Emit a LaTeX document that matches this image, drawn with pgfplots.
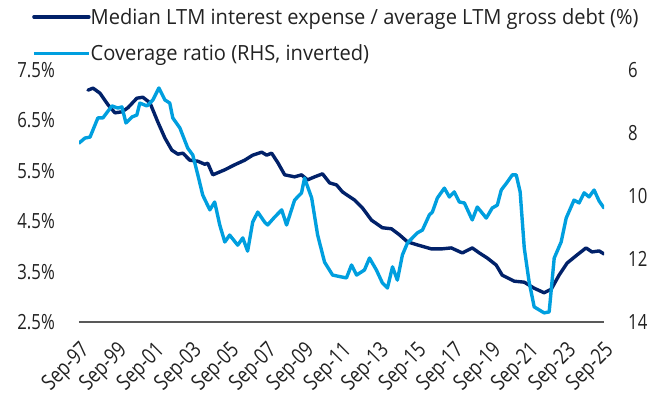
\documentclass[border=0pt]{standalone}
\usepackage{fontspec}
\setmainfont{Open Sans}[FakeStretch=0.8]
\newfontfamily\legfont{Open Sans}[FakeStretch=0.96]
\usepackage{pgfplots}
\pgfplotsset{compat=1.18}
\definecolor{navy}{HTML}{012169}
\definecolor{lblue}{HTML}{009FDF}
\definecolor{txt}{HTML}{222222}
\begin{document}
\begin{tikzpicture}
\path[use as bounding box] (-79bp,-80bp) rectangle (575bp,322bp);
\begin{axis}[
  scale only axis, width=525bp, height=252bp,
  xmin=1997.75, xmax=2025.8, ymin=2.5, ymax=7.5,
  axis x line*=bottom, axis y line*=left,
  y axis line style={draw=none},
  x axis line style={draw=black!65, line width=1.6bp, -},
  major tick length=0pt,
  xtick={1997.75,1999.75,2001.75,2003.75,2005.75,2007.75,2009.75,2011.75,2013.75,2015.75,2017.75,2019.75,2021.75,2023.75,2025.75},
  xticklabels={Sep-97,Sep-99,Sep-01,Sep-03,Sep-05,Sep-07,Sep-09,Sep-11,Sep-13,Sep-15,Sep-17,Sep-19,Sep-21,Sep-23,Sep-25},
  ytick={2.5,3.5,4.5,5.5,6.5,7.5},
  yticklabel={\pgfmathprintnumber[fixed,fixed zerofill,precision=1]{\tick}\%},
  /pgf/number format/assume math mode=true,
  tick label style={font=\fontsize{21}{24}\selectfont, text=txt},
  yticklabel style={inner sep=0pt, xshift=-24bp},
  xticklabel shift=18bp,
  xticklabel style={anchor=north east, rotate=45, inner sep=0pt, font=\fontsize{22}{24}\selectfont},
  legend style={at={(-0.0895,1.246)}, anchor=north west, draw=none, fill=none,
    inner sep=0pt, row sep=19bp, column sep=0bp, nodes={inner sep=0pt},
    font=\legfont\fontsize{21}{24}\selectfont, text=txt},
  legend cell align=left,
  legend image code/.code={\draw[#1] (0bp,0bp) -- (55bp,0bp);},
]
\addplot[navy, line width=3.4bp, line join=round, line cap=round] coordinates {
(1998.23,7.10) (1998.50,7.14) (1998.87,7.04) (1999.30,6.81) (1999.67,6.65) (2000.04,6.67)
(2000.36,6.75) (2000.84,6.94) (2001.16,6.96) (2001.54,6.85) (2001.96,6.47) (2002.34,6.15)
(2002.71,5.91) (2003.03,5.83) (2003.30,5.85) (2003.67,5.71) (2004.10,5.69) (2004.47,5.63)
(2004.63,5.65) (2004.90,5.42) (2005.54,5.52) (2006.07,5.62) (2006.60,5.71) (2007.03,5.81)
(2007.51,5.87) (2007.78,5.81) (2008.04,5.85) (2008.36,5.67) (2008.74,5.42) (2009.27,5.38)
(2009.64,5.42) (2009.96,5.32) (2010.34,5.38) (2010.76,5.44) (2011.14,5.26) (2011.51,5.22)
(2011.83,5.08) (2012.47,4.92) (2012.90,4.76) (2013.38,4.52) (2013.96,4.37) (2014.44,4.35)
(2014.87,4.23) (2015.30,4.09) (2015.83,4.03) (2016.58,3.95) (2017.11,3.95) (2017.64,3.97)
(2018.23,3.87) (2018.76,3.97) (2019.14,3.87) (2019.56,3.77) (2020.04,3.63) (2020.36,3.43)
(2021.00,3.31) (2021.54,3.29) (2022.07,3.17) (2022.60,3.08) (2022.98,3.15) (2023.40,3.43)
(2023.83,3.67) (2024.36,3.83) (2024.84,3.97) (2025.16,3.89) (2025.54,3.91) (2025.80,3.85)
};
\addlegendentry{Median LTM interest expense / average LTM gross debt (\%)}
\addlegendimage{lblue, line width=3.4bp}
\addlegendentry{Coverage ratio (RHS, inverted)}
\end{axis}
\begin{axis}[
  scale only axis, width=525bp, height=252bp,
  xmin=1997.75, xmax=2025.8, ymin=6, ymax=14, y dir=reverse,
  axis x line=none, axis y line*=right,
  y axis line style={draw=none},
  major tick length=0pt,
  ytick={6,8,10,12,14},
  /pgf/number format/assume math mode=true,
  tick label style={font=\fontsize{21}{24}\selectfont, text=txt},
  yticklabel style={inner sep=0pt, xshift=24bp},
]
\addplot[lblue, line width=3.4bp, line join=round, line cap=round] coordinates {
(1997.75,8.32) (1998.07,8.16) (1998.34,8.13) (1998.76,7.52) (1999.03,7.52) (1999.51,7.14)
(1999.83,7.21) (2000.04,7.17) (2000.26,7.68) (2000.58,7.49) (2000.84,7.43) (2001.00,7.05)
(2001.38,7.14) (2001.70,6.95) (2002.02,6.57) (2002.34,6.95) (2002.60,7.05) (2002.76,7.52)
(2003.14,7.84) (2003.56,8.48) (2003.83,8.70) (2004.10,9.33) (2004.36,9.97) (2004.74,10.44)
(2005.00,10.19) (2005.27,10.92) (2005.54,11.46) (2005.80,11.24) (2006.23,11.56) (2006.50,11.33)
(2006.76,11.75) (2007.03,10.83) (2007.30,10.51) (2007.67,10.83) (2007.83,10.92) (2008.20,10.67)
(2008.58,10.44) (2008.84,10.92) (2009.27,10.13) (2009.64,9.90) (2009.80,9.43) (2010.18,10.06)
(2010.50,11.24) (2010.87,12.10) (2011.30,12.51) (2011.78,12.57) (2012.04,12.60) (2012.31,12.19)
(2012.58,12.51) (2013.00,12.35) (2013.27,11.97) (2013.64,12.35) (2013.96,12.76) (2014.23,12.92)
(2014.50,12.25) (2014.76,12.67) (2015.03,11.87) (2015.30,11.49) (2015.83,11.17) (2016.10,11.08)
(2016.47,10.60) (2016.63,10.51) (2016.90,10.06) (2017.27,9.75) (2017.54,10.03) (2017.80,9.87)
(2018.07,10.19) (2018.34,10.22) (2018.76,10.76) (2019.03,10.35) (2019.51,10.70) (2019.83,10.38)
(2020.10,10.29) (2020.31,9.81) (2020.63,9.56) (2020.90,9.33) (2021.11,9.33) (2021.32,9.87)
(2021.54,11.65) (2021.80,12.73) (2022.07,13.52) (2022.60,13.71) (2022.87,13.68) (2023.14,11.97)
(2023.51,11.46) (2023.78,10.70) (2024.20,10.13) (2024.47,10.22) (2024.74,9.90) (2025.00,10.03)
(2025.27,9.81) (2025.54,10.16) (2025.80,10.38)
};
\end{axis}
\end{tikzpicture}
\end{document}
